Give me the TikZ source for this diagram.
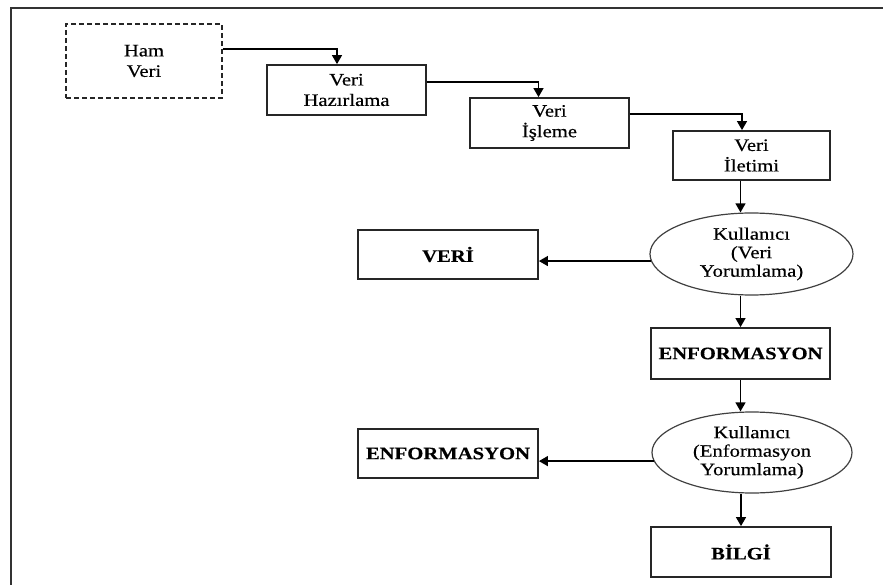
\documentclass[tikz,border=0pt]{standalone}
\usepackage{fontspec}
\setmainfont{Liberation Serif}[FakeStretch=1.18, FakeBold=0.4]
\usetikzlibrary{arrows.meta,shapes.geometric,calc}

\begin{document}
\begin{tikzpicture}[x=1pt,y=-1pt,
  txt/.style={font=\fontsize{17.5}{20.5}\selectfont, align=center, text=black},
  stepbox/.style={txt, draw=black!85, line width=1.8pt, rectangle, inner sep=0pt},
  rawbox/.style={stepbox, dashed, dash pattern=on 5pt off 3pt, line width=1.6pt},
  userell/.style={txt, font=\fontsize{17.5}{18.5}\selectfont, draw=black!75, line width=1.2pt, ellipse, inner sep=0pt},
  result/.style={stepbox, font=\fontsize{17.5}{20.5}\selectfont\bfseries},
  arr/.style={draw=black, line width=1.3pt, -{Triangle[length=9pt,width=10pt]}}
]
\useasboundingbox (0,0) rectangle (883,585);

% outer frame (top and left edges)
\draw[line width=2.4pt, black!80] (883,8) -- (11,8) -- (11,585);

% processing chain
\node[rawbox, minimum width=156pt, minimum height=74pt] (ham) at (144,61) {Ham\\Veri};
\node[stepbox, minimum width=159pt, minimum height=50pt] (hazir) at (346.5,90) {Veri\\Hazırlama};
\node[stepbox, minimum width=159pt, minimum height=50pt] (isleme) at (549.5,123) {Veri\\İşleme};
\node[stepbox, minimum width=157pt, minimum height=49pt] (iletim) at (751.5,155.5) {Veri\\İletimi};

% interpretation stages
\node[userell, minimum width=203pt, minimum height=82pt] (ell1) at (751.5,254) {Kullanıcı\\(Veri\\Yorumlama)};
\node[result, minimum width=180pt, minimum height=49pt] (veri) at (448,254.5) {VERİ};
\node[result, minimum width=179pt, minimum height=51pt] (enf1) at (740.5,353.5) {ENFORMASYON};
\node[userell, minimum width=200pt, minimum height=81pt] (ell2) at (752,452.5) {Kullanıcı\\(Enformasyon\\Yorumlama)};
\node[result, minimum width=180pt, minimum height=49pt] (enf2) at (448,453.5) {ENFORMASYON};
\node[result, minimum width=180pt, minimum height=50pt] (bilgi) at (741,552) {BİLGİ};

% step connectors
\draw[arr] ([yshift=12pt]ham.east) -| ([xshift=-9.5pt]hazir.north);
\draw[arr] ([yshift=8pt]hazir.east) -| ([xshift=-11pt]isleme.north);
\draw[arr] ([yshift=9pt]isleme.east) -| ([xshift=-9.5pt]iletim.north);

% vertical flow
\draw[arr] (iletim.south -| enf1.north) -- (ell1.north -| enf1.north);
\draw[arr] (ell1.south -| enf1.north) -- (enf1.north);
\draw[arr] (enf1.south) -- (ell2.north -| enf1.south);
\draw[arr] (ell2.south -| bilgi.north) -- (bilgi.north);

% side outputs
\draw[arr] (ell1.184) -- (ell1.184 -| veri.east);
\draw[arr] (ell2.185) -- (ell2.185 -| enf2.east);
\end{tikzpicture}
\end{document}
